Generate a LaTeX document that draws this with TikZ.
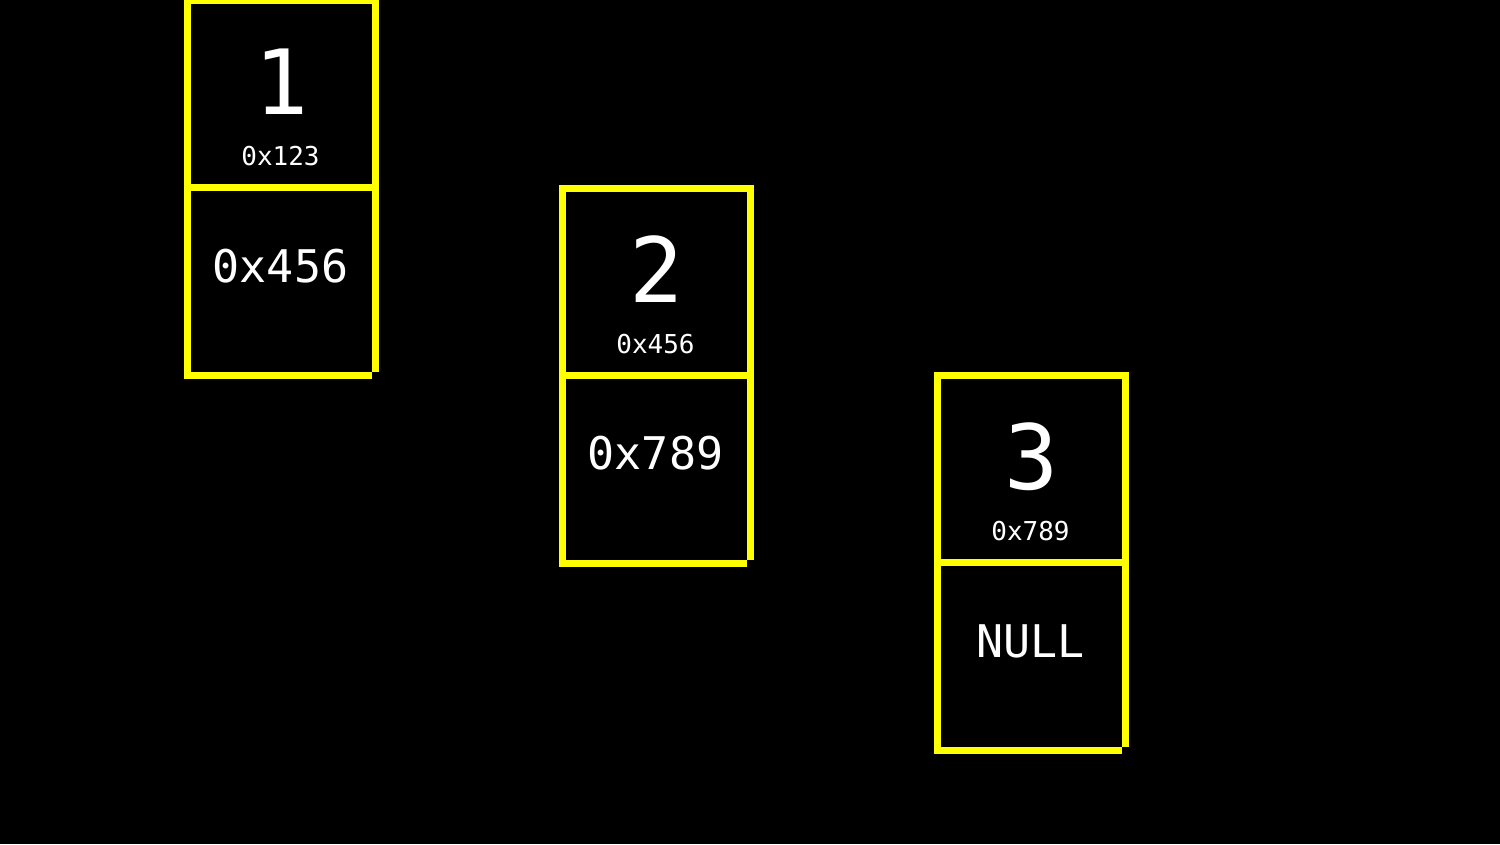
\documentclass[tikz,border=0pt]{standalone}
\usepackage{fontspec}
\newfontfamily\monof{DejaVu Sans Mono}
\definecolor{boxyellow}{RGB}{255,255,0}
\tikzset{
  ybox/.style={draw=boxyellow, line width=7pt, line cap=butt},
  bignum/.style={text=white, inner sep=0pt, anchor=base, font=\monof\fontsize{90}{90}\selectfont},
  addrtxt/.style={text=white, inner sep=0pt, anchor=base, font=\monof\fontsize{26}{26}\selectfont},
  ptrtxt/.style={text=white, inner sep=0pt, anchor=base, font=\monof\fontsize{45}{45}\selectfont},
}
\begin{document}
\begin{tikzpicture}[x=1pt,y=-1pt]
\fill[black] (0,0) rectangle (1500,844);
\useasboundingbox (0,0) rectangle (1500,844);
\foreach \L/\T/\v/\a/\n [count=\i] in {187.5/0.5/1/0x123/0x456, 562.5/188/2/0x456/0x789, 937.5/375.5/3/0x789/NULL}{
  \draw[ybox] (\L,\T-3.5) -- (\L,\T+378.5);
  \draw[ybox] (\L-3.5,\T) -- (\L+191.5,\T);
  \draw[ybox] (\L+188,\T-3.5) -- (\L+188,\T+371.5);
  \draw[ybox] (\L-3.5,\T+375) -- (\L+184.5,\T+375);
  \draw[ybox] (\L,\T+187) -- (\L+188,\T+187);
  \node[bignum] (val\i) at (\L+94,\T+114) {\v};
  \node[addrtxt] (addr\i) at (\L+93,\T+165) {\a};
  \node[ptrtxt] (next\i) at (\L+93,\T+281.5) {\n};
}
\end{tikzpicture}
\end{document}
